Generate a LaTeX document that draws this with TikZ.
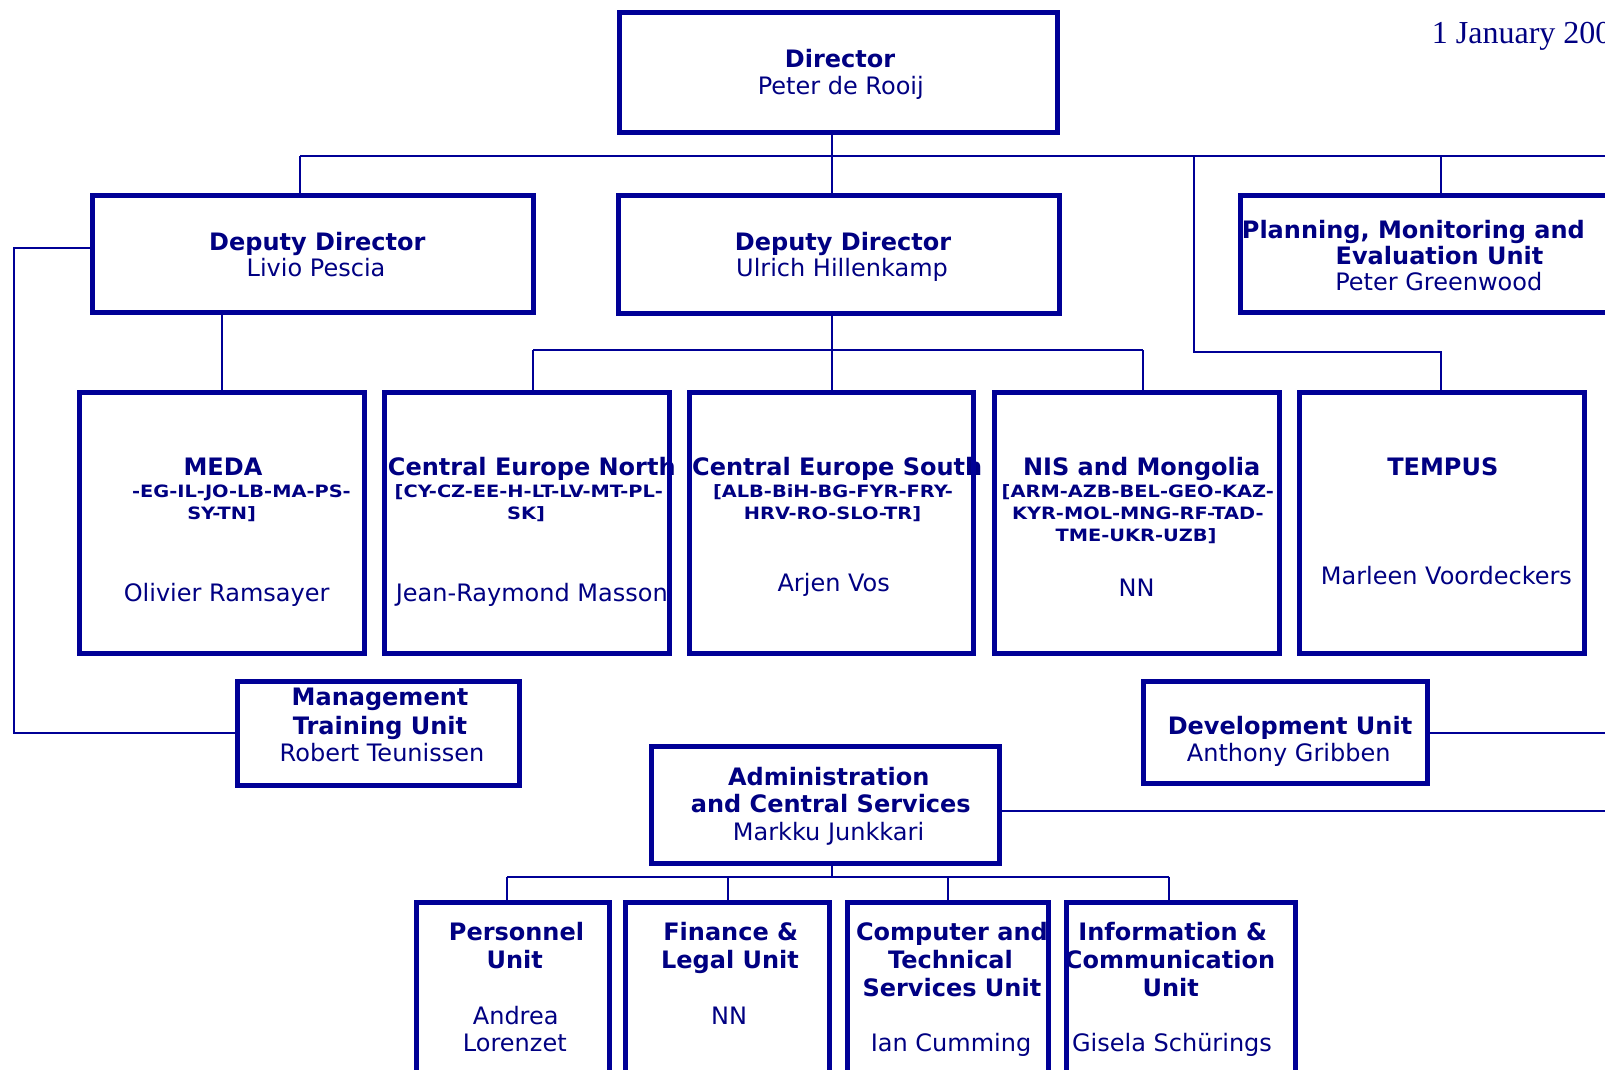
\documentclass[tikz,border=0pt]{standalone}
\usepackage{fontspec}
\setmainfont{DejaVu Sans}
\newfontfamily\codef[FakeStretch=1.14]{DejaVu Sans}
\newfontfamily\datef{Liberation Serif}
\definecolor{navyl}{RGB}{0,0,150}
\definecolor{navyt}{RGB}{0,0,130}
\tikzset{
  box/.style={draw=navyl, line width=5pt, inner sep=0pt, outer sep=0pt},
  conn/.style={draw=navyl, line width=2pt},
  ttl/.style={anchor=base, inner sep=0pt, text=navyt, font=\bfseries\fontsize{24}{26}\selectfont},
  nme/.style={anchor=base, inner sep=0pt, text=navyt, font=\fontsize{24}{26}\selectfont},
  cds/.style={anchor=base, inner sep=0pt, text=navyt, font=\codef\bfseries\fontsize{17}{20}\selectfont},
}
\begin{document}
\begin{tikzpicture}[x=1pt,y=-1pt]
\useasboundingbox (0,0) rectangle (1605,1069);
\clip (0,0) rectangle (1605,1069);
\fill[white] (0,0) rectangle (1605,1069);

% ---- texts ----
\node[anchor=base west, inner sep=0pt, text=navyt, font=\datef\fontsize{32}{34}\selectfont] (date) at (1431.7,43.3) {1 January 200};

\node[ttl] (t1) at (840,67.7) {Director};
\node[nme] (t2) at (840.8,94.3) {Peter de Rooij};

\node[ttl] (t3) at (317.3,250) {Deputy Director};
\node[nme] (t4) at (316,276.7) {Livio Pescia};

\node[ttl] (t5) at (843,250) {Deputy Director};
\node[nme] (t6) at (842,276.7) {Ulrich Hillenkamp};

\node[ttl, anchor=base west] (t7) at (1241.7,238.3) {Planning, Monitoring and};
\node[ttl] (t8) at (1439.5,264) {Evaluation Unit};
\node[nme] (t9) at (1438.8,290) {Peter Greenwood};

\node[ttl] (t10) at (223,475) {MEDA};
\node[cds] (t11) at (241.5,497.3) {-EG-IL-JO-LB-MA-PS-};
\node[cds] (t12) at (221.6,519) {SY-TN]};
\node[nme] (t13) at (226.6,601.7) {Olivier Ramsayer};

\node[ttl] (t14) at (531.8,475) {Central Europe North};
\node[cds] (t15) at (528.8,497.3) {[CY-CZ-EE-H-LT-LV-MT-PL-};
\node[cds] (t16) at (526,519) {SK]};
\node[nme] (t17) at (531.8,601.7) {Jean-Raymond Masson};

\node[ttl] (t18) at (837.2,475) {Central Europe South};
\node[cds] (t19) at (833,497.3) {[ALB-BiH-BG-FYR-FRY-};
\node[cds] (t20) at (832.5,519) {HRV-RO-SLO-TR]};
\node[nme] (t21) at (833.7,591.7) {Arjen Vos};

\node[ttl] (t22) at (1141.7,475) {NIS and Mongolia};
\node[cds] (t23) at (1137.8,497.3) {[ARM-AZB-BEL-GEO-KAZ-};
\node[cds] (t24) at (1137.8,519) {KYR-MOL-MNG-RF-TAD-};
\node[cds] (t25) at (1136,541.7) {TME-UKR-UZB]};
\node[nme] (t26) at (1136.6,596.7) {NN};

\node[ttl] (t27) at (1442.8,475) {TEMPUS};
\node[nme] (t28) at (1446.4,584) {Marleen Voordeckers};

\node[ttl] (t29) at (380,705) {Management};
\node[ttl] (t30) at (380,734) {Training Unit};
\node[nme] (t31) at (382,761.7) {Robert Teunissen};

\node[ttl] (t32) at (1290,734) {Development Unit};
\node[nme] (t33) at (1288.7,761.7) {Anthony Gribben};

\node[ttl] (t34) at (828.8,785.7) {Administration};
\node[ttl] (t35) at (830.8,812.7) {and Central Services};
\node[nme] (t36) at (828.5,840) {Markku Junkkari};

\node[ttl] (t37) at (516.5,940) {Personnel};
\node[ttl] (t38) at (514.8,968.3) {Unit};
\node[nme] (t39) at (515.7,1024.3) {Andrea};
\node[nme] (t40) at (514.8,1051.7) {Lorenzet};

\node[ttl] (t41) at (730.7,940) {Finance \&};
\node[ttl] (t42) at (730,968.3) {Legal Unit};
\node[nme] (t43) at (729,1024.3) {NN};

\node[ttl] (t44) at (951.9,940) {Computer and};
\node[ttl] (t45) at (950.5,968.3) {Technical};
\node[ttl] (t46) at (951.9,996.7) {Services Unit};
\node[nme] (t47) at (951.1,1051.7) {Ian Cumming};

\node[ttl] (t48) at (1172.7,940) {Information \&};
\node[ttl] (t49) at (1170,968.3) {Communication};
\node[ttl] (t50) at (1170.7,996.7) {Unit};
\node[nme] (t51) at (1172,1051.7) {Gisela Schürings};

% ---- boxes ----
\node[box, minimum width=438pt, minimum height=120pt] (dir) at (838.5,72.5) {};
\node[box, minimum width=440.5pt, minimum height=116.5pt] (dd1) at (312.8,254.2) {};
\node[box, minimum width=440.5pt, minimum height=117.5pt] (dd2) at (838.8,254.3) {};
\node[box, minimum width=400pt, minimum height=117pt] (pme) at (1440,254) {};

\node[box, minimum width=285pt, minimum height=261.5pt] (meda) at (222,523.2) {};
\node[box, minimum width=285pt, minimum height=261.5pt] (cen) at (527,523.2) {};
\node[box, minimum width=284pt, minimum height=261.5pt] (ces) at (831.5,523.2) {};
\node[box, minimum width=285pt, minimum height=261.5pt] (nis) at (1136.6,523.2) {};
\node[box, minimum width=285pt, minimum height=261.5pt] (tem) at (1441.6,523.2) {};

\node[box, minimum width=282pt, minimum height=104pt] (mtu) at (378.5,733) {};
\node[box, minimum width=284pt, minimum height=102pt] (dev) at (1285.5,732.5) {};
\node[box, minimum width=348pt, minimum height=117pt] (acs) at (825.5,805) {};

\node[box, minimum width=193pt, minimum height=197.5pt] (per) at (513,1001.25) {};
\node[box, minimum width=204pt, minimum height=197.5pt] (fin) at (727.5,1001.25) {};
\node[box, minimum width=201pt, minimum height=197.5pt] (cts) at (948,1001.25) {};
\node[box, minimum width=229pt, minimum height=197.5pt] (inf) at (1181,1001.25) {};

% ---- connectors ----
\coordinate (d0) at (831.7,0);
\coordinate (b1l) at (300,156);
\coordinate (b1r) at (1620,156);
\draw[conn] (b1l) -- (b1r);
\draw[conn] (b1l) -- (b1l |- dd1.north);
\draw[conn] (d0 |- dir.south) -- (d0 |- dd2.north);
\coordinate (pm) at (1440.7,156);
\draw[conn] (pm) -- (pm |- pme.north);
\coordinate (tp1) at (1194.3,156);
\coordinate (tp2) at (1194.3,352);
\coordinate (tp3) at (1440.7,352);
\draw[conn] (tp1) -- (tp2) -- (tp3) -- (tp3 |- tem.north);

\draw[conn] (d0 |- dd2.south) -- (d0 |- ces.north);
\coordinate (b2l) at (533,350);
\coordinate (b2r) at (1142.7,350);
\draw[conn] (b2l) -- (b2r);
\draw[conn] (b2l) -- (b2l |- cen.north);
\draw[conn] (b2r) -- (b2r |- nis.north);

\coordinate (lv) at (222,0);
\draw[conn] (lv |- dd1.south) -- (lv |- meda.north);

\coordinate (lx) at (14.3,0);
\draw[conn] ([yshift=6.5pt]dd1.west) -| (lx |- mtu.west) -- (mtu.west);

\coordinate (rx) at (1620,0);
\draw[conn] (dev.east) -- (rx |- dev.east);
\draw[conn] ([yshift=-6pt]acs.east) -- ([yshift=-6pt]rx |- acs.east);

\coordinate (b3c) at (831.7,876.7);
\coordinate (b3l) at (507.3,876.7);
\coordinate (b3r) at (1169.2,876.7);
\coordinate (b3a) at (727.8,876.7);
\coordinate (b3b) at (948.2,876.7);
\draw[conn] (d0 |- acs.south) -- (b3c);
\draw[conn] (b3l) -- (b3r);
\draw[conn] (b3l) -- (b3l |- per.north);
\draw[conn] (b3a) -- (b3a |- fin.north);
\draw[conn] (b3b) -- (b3b |- cts.north);
\draw[conn] (b3r) -- (b3r |- inf.north);
\end{tikzpicture}
\end{document}
